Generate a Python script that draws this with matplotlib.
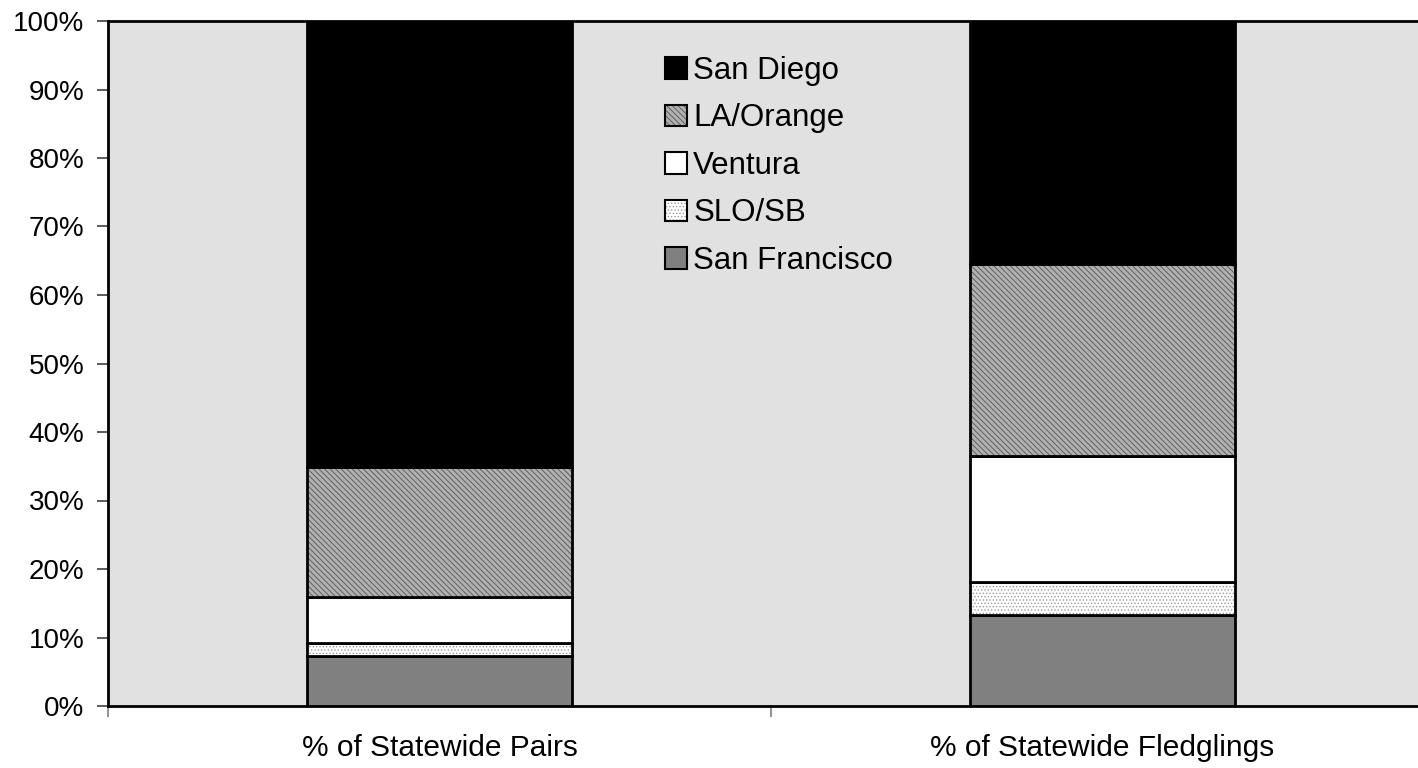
import matplotlib
matplotlib.use('Agg')
from matplotlib import pyplot as plt
import numpy as np

plt.rcParams['font.family'] = ['Liberation Sans', 'DejaVu Sans']
plt.rcParams['hatch.linewidth'] = 0.6

# share of statewide total, bottom to top
categories = ['% of Statewide Pairs', '% of Statewide Fledglings']
regions = ['San Francisco', 'SLO/SB', 'Ventura', 'LA/Orange', 'San Diego']
san_francisco = [7.3, 13.3]
slo_sb = [1.9, 4.8]
ventura = [6.7, 18.4]
la_orange = [19.0, 28.0]
san_diego = [65.1, 35.5]
values = [san_francisco, slo_sb, ventura, la_orange, san_diego]

fills = ['#808080', 'white', 'white', '#b0b0b0', 'black']
hatches = [None, '.....', None, '\\\\\\\\\\\\', None]
hatch_cols = ['black', '#9a9a9a', 'black', '#555555', 'black']

fig = plt.figure(figsize=(14.18, 7.68), dpi=100)
# plot area runs past the right edge of the figure
ax = fig.add_axes([108 / 1418, 1 - 706 / 768, 1326 / 1418, 685 / 768])
ax.set_facecolor('#e1e1e1')

x = np.arange(len(categories)) + 0.5
bottom = np.zeros(len(categories))
bars = []
for name, vals, fc, h, hc in zip(regions, values, fills, hatches, hatch_cols):
    b = ax.bar(x, vals, 0.4, bottom=bottom, color=fc, hatch=h,
               edgecolor='black', linewidth=2, label=name, zorder=3)
    for p in b:
        p._hatch_color = matplotlib.colors.to_rgba(hc)
    bars.append(b)
    bottom += np.array(vals)

ax.set_xlim(0, 2)
ax.set_ylim(0, 100)
ax.set_yticks(np.arange(0, 101, 10))
ax.set_yticklabels([f'{v}%' for v in range(0, 101, 10)])
ax.set_xticks(x)
ax.set_xticklabels(categories)
ax.set_xticks([0, 1, 2], minor=True)
ax.tick_params(axis='x', which='major', length=0, pad=20, labelsize=21.5)
ax.tick_params(axis='x', which='minor', length=8, width=1.2, color='#808080')
ax.tick_params(axis='y', length=8, width=1.2, color='#404040', labelsize=20, pad=9)

for side in ['left', 'bottom', 'top']:
    ax.spines[side].set_linewidth(2)
    ax.spines[side].set_color('black')
ax.spines['right'].set_visible(False)

handles = [b[0] for b in bars][::-1]
leg = ax.legend(handles, regions[::-1], loc='upper left',
                bbox_to_anchor=(0.399, 0.99), frameon=False, fontsize=22.5,
                handlelength=0.7, handleheight=0.7, handletextpad=0.2,
                labelspacing=0.56)
for p in leg.get_patches():
    p.set_linewidth(1.5)

fig.savefig('out.png', dpi=100)
